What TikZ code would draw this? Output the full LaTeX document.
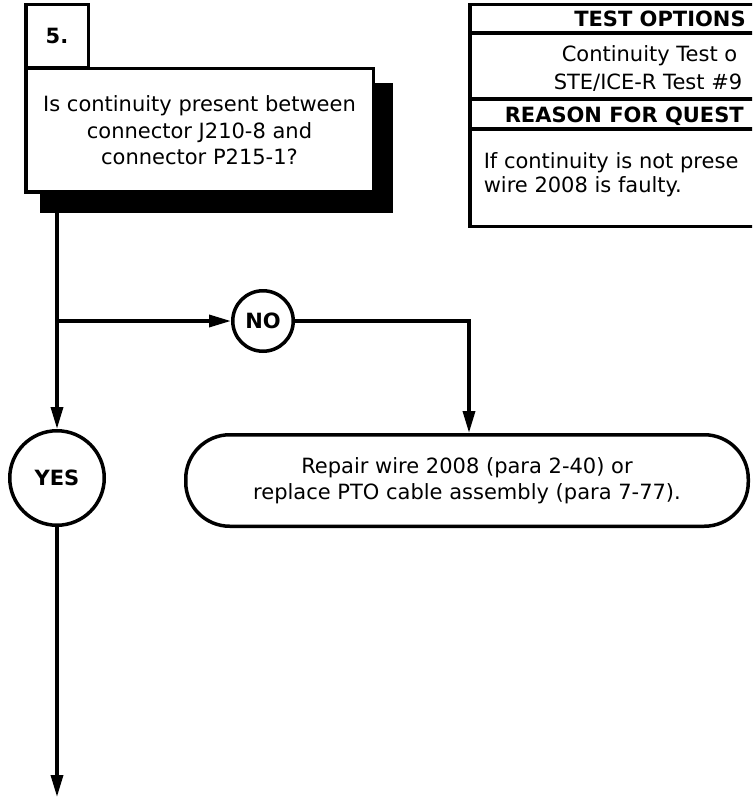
\documentclass[tikz,border=0pt]{standalone}
\usepackage{fontspec}
\setmainfont{DejaVu Sans}
\usetikzlibrary{arrows.meta,positioning,calc}

\begin{document}
\begin{tikzpicture}[
    x=1pt, y=-1pt,
    >={Triangle[length=22pt,width=12pt]},
    line width=3.5pt,
    every node/.style={font=\fontsize{21}{26.5}\selectfont},
    numbox/.style={
        draw, fill=white, inner sep=0pt,
        minimum width=62.5pt, minimum height=63pt,
        font=\fontsize{21}{26}\selectfont\bfseries
    },
    qbox/.style={
        draw, fill=white, inner sep=0pt, align=center,
        minimum width=347.5pt, minimum height=123pt
    },
    answer/.style={
        draw, circle, inner sep=0pt,
        font=\fontsize{21}{26}\selectfont\bfseries
    },
    actionbox/.style={
        draw, rounded corners=44pt, inner sep=0pt, align=center,
        minimum width=562.5pt, minimum height=91.5pt
    },
    tabtext/.style={anchor=base west, inner sep=0pt},
    tabhead/.style={anchor=base, inner sep=0pt,
        font=\fontsize{21}{26}\selectfont\bfseries}
]

\useasboundingbox (0,0) rectangle (752,797);
\clip (0,0) rectangle (752,797);

% Schritt 5: Frage mit Schatten
\fill (40,83) rectangle (393,213);
\node[qbox] (question) at (199.5,130.25)
    {Is continuity present between\\connector J210-8 and\\connector P215-1?};
\node[numbox] (num) at (57,36.25) {5.};

% Tabelle rechts oben (angeschnitten)
\draw (469.75,4.75) rectangle (900,226.25);
\draw (469.75,33) -- (900,33);
\draw (469.75,99) -- (900,99);
\draw (469.75,129) -- (900,129);
\node[tabhead] (opthead) at (660,27) {TEST OPTIONS};
\node[tabtext] (opt1) at (560,62) {Continuity Test o};
\node[tabtext] (opt2) at (552,90) {STE/ICE-R Test \#9};
\node[tabhead, anchor=base west] (reasonhead) at (503,122) {REASON FOR QUEST};
\node[tabtext] (reason1) at (482,168) {If continuity is not prese};
\node[tabtext] (reason2) at (482,192) {wire 2008 is faulty.};

% Antworten
\node[answer, minimum size=60.5pt] (no) at (263,321) {NO};
\node[answer, minimum size=94.5pt] (yes) at (57,478) {YES};

% Massnahme
\node[actionbox] (repair) at (467,480.5)
    {Repair wire 2008 (para 2-40) or\\replace PTO cable assembly (para 7-77).};

% Verbindungen
\coordinate (trunk) at (57,213);
\coordinate (split) at (57,321);
\coordinate (down) at (57,797);
\draw[->] (trunk) -- (yes);
\draw[->] (split) -- (no);
\draw[->] (no) -| ([xshift=2pt]repair.north);
\draw[->] (yes) -- (down);

\end{tikzpicture}
\end{document}
